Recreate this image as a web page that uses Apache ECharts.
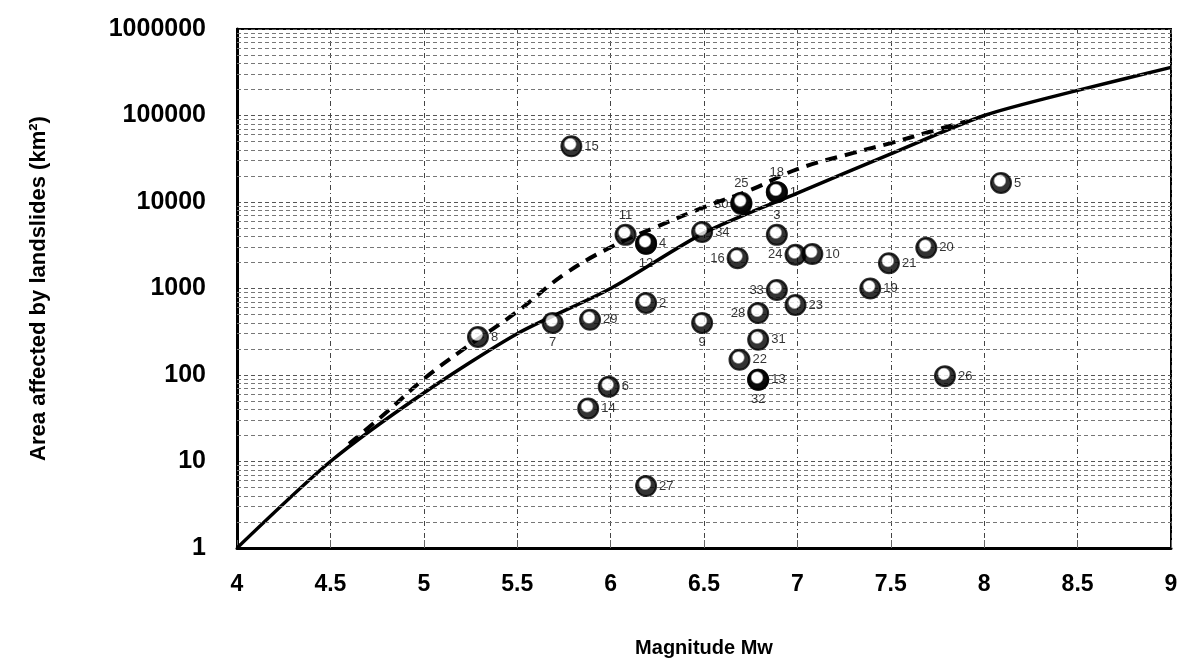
<!DOCTYPE html>
<html>
<head>
<meta charset="utf-8">
<script src="https://cdn.jsdelivr.net/npm/echarts@6/dist/echarts.min.js"></script>
<style>
html,body{margin:0;padding:0;background:#fff;}
#chart{width:1182px;height:664px;}
</style>
</head>
<body>
<div id="chart"></div>
<script>
// ---- data ----
const pointIds  = ['15','18','1','30','25','11','4','12','34','3','16','24','10','20','21','19','5','2','33','23','28','29','7','8','9','31','22','13','32','6','14','26','27'];
const pointMw   = [5.79,6.89,6.89,6.70,6.70,6.08,6.19,6.19,6.49,6.89,6.68,6.99,7.08,7.69,7.49,7.39,8.09,6.19,6.89,6.99,6.79,5.89,5.69,5.29,6.49,6.79,6.69,6.79,6.79,5.99,5.88,7.79,6.19];
const pointArea = [44000,13000,13000,9500,9800,4170,3300,3300,4500,4170,2240,2450,2500,2950,1960,1000,16600,680,960,645,520,435,400,275,400,255,150,88,88,73,41,97,5.2];

const solidMw   = [4, 4.5, 5, 5.5, 6, 6.5, 7, 7.5, 8, 8.5, 9];
const solidArea = [1, 10, 62, 300, 1000, 4400, 12700, 36000, 100000, 195000, 360000];

const dashedMw   = [4.6, 4.8, 5, 5.2, 5.5, 5.75, 6, 6.25, 6.5, 6.75, 7, 7.3, 7.5, 7.7, 7.9];
const dashedArea = [16, 37, 90, 190, 540, 1450, 3000, 5200, 8700, 13800, 24000, 37000, 48000, 64000, 85000];

const xTickLabels = ['4','4.5','5','5.5','6','6.5','7','7.5','8','8.5','9'];
const yTickLabels = ['1','10','100','1000','10000','100000','1000000'];

// ---- label placement (style) ----
const labelSide = {
  '18':'top','25':'top','11':'top','3':'top',
  '30':'left','16':'left','24':'left','33':'left','28':'left',
  '7':'bottom','9':'bottom','12':'bottom','32':'bottom'
};

// minor log gridlines (2..9 x 10^k)
const minorLines = [];
for (let k = 0; k < 6; k++) {
  for (let m = 2; m <= 9; m++) minorLines.push({ yAxis: m * Math.pow(10, k) });
}

const ball = {
  type: 'radial', x: 0.45, y: 0.4, r: 0.6,
  colorStops: [
    { offset: 0, color: '#ffffff' },
    { offset: 0.38, color: '#ffffff' },
    { offset: 0.5, color: '#000000' },
    { offset: 1, color: '#000000' }
  ]
};

const scatterData = pointIds.map((id, i) => ({
  value: [pointMw[i], pointArea[i]],
  name: id,
  label: { position: labelSide[id] || 'right' }
}));

const chart = echarts.init(document.getElementById('chart'));
chart.setOption({
  animation: false,
  backgroundColor: '#fff',
  grid: { left: 237, right: 11, top: 29, bottom: 116, show: true, borderColor: '#000', borderWidth: 2, backgroundColor: 'transparent' },
  xAxis: {
    type: 'value', min: 4, max: 9, interval: 0.5,
    name: 'Magnitude Mw', nameLocation: 'middle', nameGap: 90,
    nameTextStyle: { fontFamily: 'Liberation Sans', fontWeight: 'bold', fontSize: 20, color: '#000' },
    axisLine: { show: true, lineStyle: { color: '#000', width: 3 } },
    axisTick: { show: true, inside: true, length: 8, lineStyle: { color: '#666', width: 1 } },
    axisLabel: {
      margin: 25, fontFamily: 'Liberation Sans', fontWeight: 'bold', fontSize: 23, color: '#000',
      formatter: v => xTickLabels[Math.round((v - 4) / 0.5)]
    },
    splitLine: { show: true, lineStyle: { color: '#444', width: 1, type: [5, 3, 1, 3] } }
  },
  yAxis: {
    type: 'log', logBase: 10, min: 1, max: 1000000,
    name: 'Area affected by landslides (km²)', nameLocation: 'middle', nameGap: 187, nameRotate: 90,
    nameTextStyle: { fontFamily: 'Liberation Sans', fontWeight: 'bold', fontSize: 22, color: '#000' },
    axisLine: { show: true, lineStyle: { color: '#000', width: 3 } },
    axisTick: { show: false },
    axisLabel: {
      margin: 31, fontFamily: 'Liberation Sans', fontWeight: 'bold', fontSize: 25, color: '#000',
      formatter: v => yTickLabels[Math.round(Math.log10(v))]
    },
    splitLine: { show: true, lineStyle: { color: '#555', width: 1, type: [4, 3] } }
  },
  series: [
    {
      type: 'line', data: [], silent: true,
      markLine: {
        silent: true, symbol: 'none', label: { show: false },
        lineStyle: { color: '#777', width: 1, type: [4, 3] },
        data: minorLines
      }
    },
    {
      type: 'line', name: 'solid', showSymbol: false, smooth: 0.25,
      data: solidMw.map((m, i) => [m, solidArea[i]]),
      lineStyle: { color: '#000', width: 3.5 }
    },
    {
      type: 'line', name: 'dashed', showSymbol: false, smooth: 0.4,
      data: dashedMw.map((m, i) => [m, dashedArea[i]]),
      lineStyle: { color: '#000', width: 4, type: [12, 8] }
    },
    {
      type: 'scatter', name: 'events', symbol: 'circle', symbolSize: 20,
      data: scatterData,
      itemStyle: { color: ball, borderColor: '#000', borderWidth: 2 },
      label: {
        show: true, formatter: p => p.name, distance: 2,
        fontFamily: 'Liberation Sans', fontSize: 13, color: '#000'
      },
      z: 5
    }
  ]
});
</script>
</body>
</html>
